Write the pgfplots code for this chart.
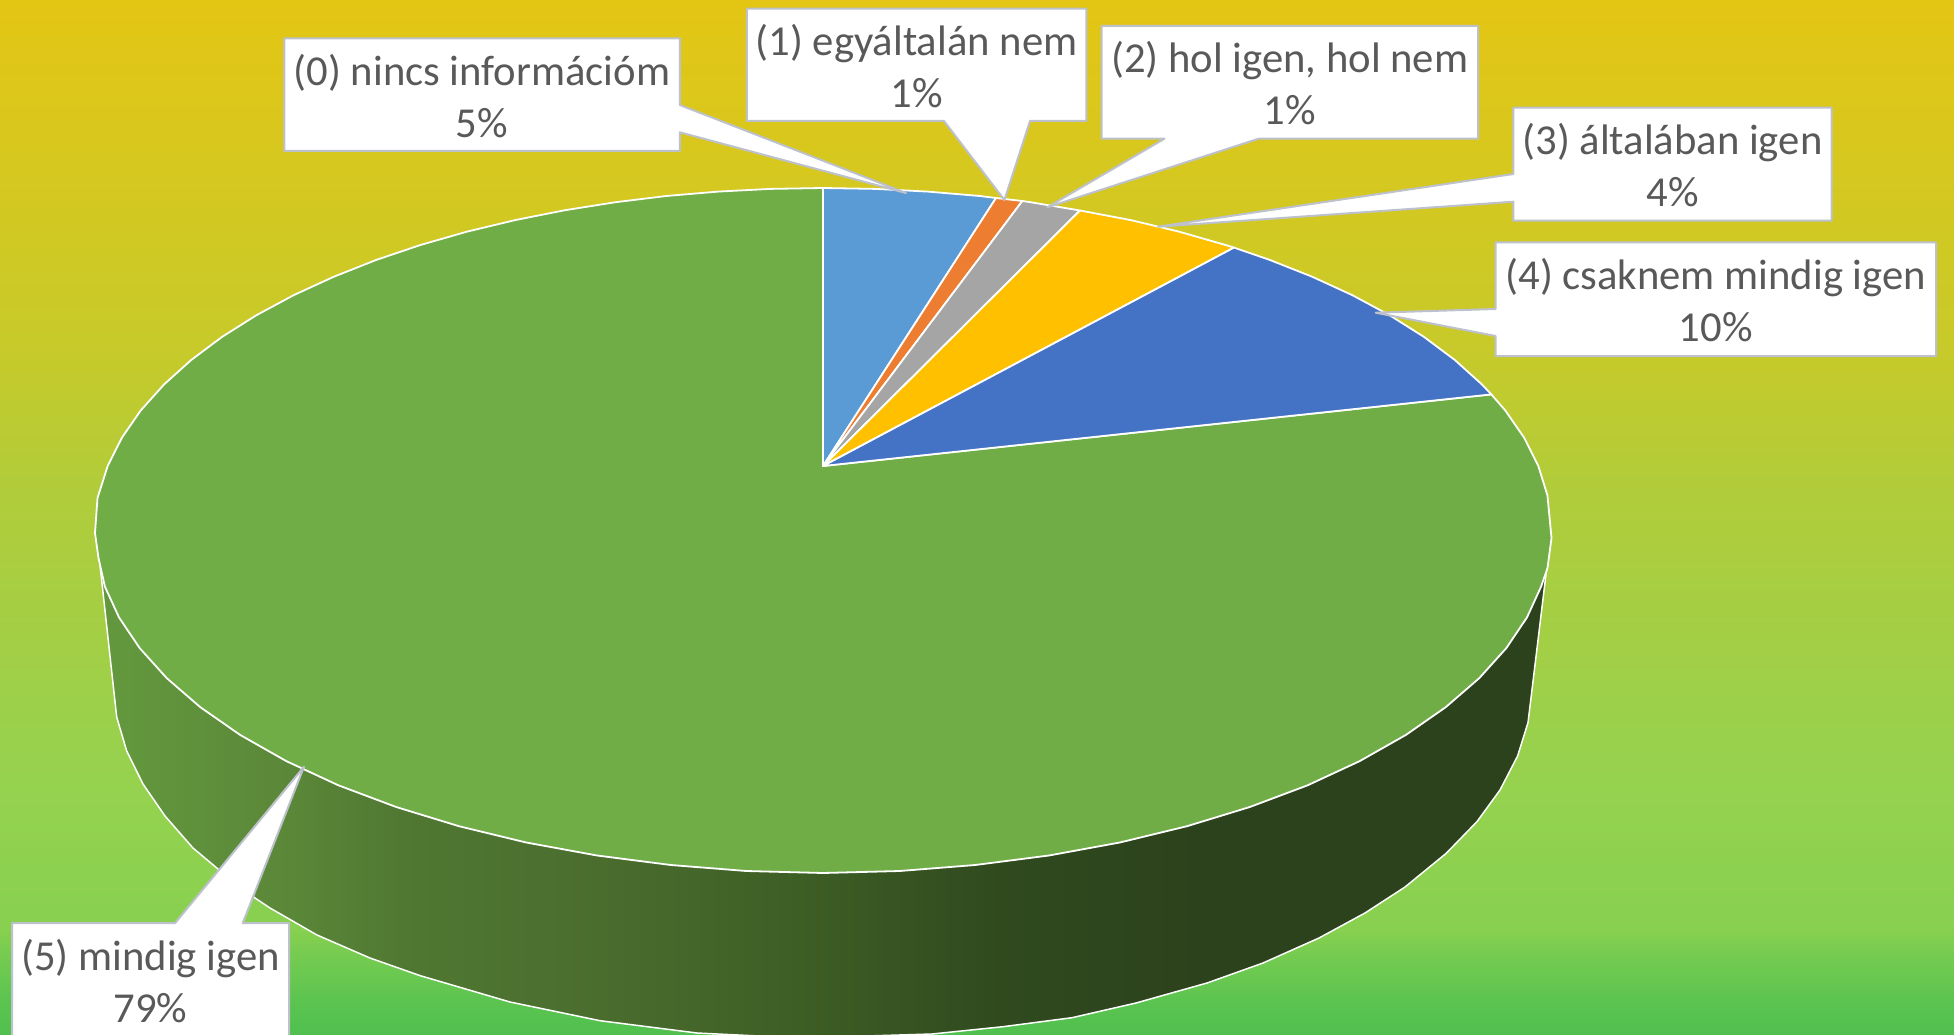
\documentclass[border=0pt]{standalone}
\usepackage{fontspec}
\setmainfont{Carlito}
\usepackage{pgfplots}
\pgfplotsset{compat=1.18}
\definecolor{txt}{HTML}{595959}
\definecolor{bord}{HTML}{BDC1CC}
\definecolor{green5}{HTML}{70AD47}
\definecolor{slice0}{HTML}{5B9BD5}
\definecolor{slice1}{HTML}{ED7D31}
\definecolor{slice2}{HTML}{A5A5A5}
\definecolor{slice3}{HTML}{FFC000}
\definecolor{slice4}{HTML}{4472C4}
\definecolor{bga}{RGB}{80,192,78}
\definecolor{bgb}{RGB}{92,196,80}
\definecolor{bgc}{RGB}{120,204,80}
\definecolor{bgd}{RGB}{136,208,80}
\definecolor{bge}{RGB}{148,210,79}
\definecolor{bgf}{RGB}{157,208,74}
\definecolor{bgg}{RGB}{178,204,57}
\definecolor{bgh}{RGB}{199,202,42}
\definecolor{bgi}{RGB}{220,199,27}
\definecolor{bgj}{RGB}{227,197,20}
\definecolor{wa}{RGB}{98,151,61}
\definecolor{wb}{RGB}{90,134,56}
\definecolor{wc}{RGB}{80,120,50}
\definecolor{wd}{RGB}{74,109,46}
\definecolor{we}{RGB}{61,94,37}
\definecolor{wf}{RGB}{48,74,30}
\definecolor{wg}{RGB}{44,66,28}
\pgfdeclareverticalshading{bgshade}{100bp}{
  color(0bp)=(bga);
  color(25bp)=(bga);
  color(26.7bp)=(bgb);
  color(29.1bp)=(bgc);
  color(30.1bp)=(bgd);
  color(36.4bp)=(bge);
  color(41.2bp)=(bgf);
  color(51.8bp)=(bgg);
  color(58.1bp)=(bgh);
  color(70.2bp)=(bgi);
  color(75bp)=(bgj);
  color(100bp)=(bgj)}
\pgfdeclarehorizontalshading{wallshade}{100bp}{
  color(0bp)=(wa);
  color(26bp)=(wa);
  color(31.9bp)=(wb);
  color(35.4bp)=(wc);
  color(42.3bp)=(wd);
  color(49.2bp)=(we);
  color(56.1bp)=(wf);
  color(63bp)=(wg);
  color(100bp)=(wg)}
\begin{document}
\begin{tikzpicture}
\begin{axis}[
  scale only axis, width=1954pt, height=1035pt,
  xmin=0, xmax=1954, ymin=0, ymax=1035, y dir=reverse,
  hide axis, clip=true,
]
% background
\addplot[draw=none, shade, shading=bgshade] coordinates {(0,0)(1954,0)(1954,1035)(0,1035)} --cycle;
% side wall
\addplot[draw=white, line width=1.5pt, shade, shading=wallshade] coordinates {
(100,565)(116.7,717)(126.7,751)(143,784)(165,816)(193,848)(218,869)(255,898)(270,908)(317,935)(370,958)(420,975.6)(510,1002)(600,1020.7)(697,1033)(800,1038)(932,1034)(1003,1026.7)(1072,1017.7)(1136,1003)(1207,983)(1263,963)(1319,938)(1365,913)(1405,887)(1446,853.5)(1477,821.6)(1500,790)(1517.6,756)(1528,722.5)(1546.5,570)} --cycle;
% (5) mindig igen
\addplot[draw=white, line width=1.8pt, fill=green5, line join=round] coordinates {
(823,466)(1491.3,394.4)(1505.3,410.5)(1524.1,437.7)(1538.3,466)(1547.4,495.3)(1551.5,538)(1547.5,568)(1541.1,586.6)(1527,617.4)(1506.4,648)(1479.4,678)(1445.8,707.1)(1405.9,734.9)(1359.7,761.1)(1307.6,785.3)(1249.8,807)(1187,826.2)(1119.8,842.5)(1048.9,855.5)(975.2,865)(899.7,871)(823,873)
(746.3,871)(670.8,865)(597.1,855.5)(526.2,842.5)(459,826.2)(396.2,807)(338.4,785.3)(286.3,761.1)(240.1,734.9)(200.2,707.1)(166.6,678)(139.6,648)(119,617.4)(104.9,586.6)(98.5,558)(95,533)(97.5,498)(107.7,466)(121.9,437.7)(140.7,410.5)(164,384.5)(191.3,359.9)(222.2,336.8)(256.6,315.1)(293.8,295.1)(333.9,276.7)(376.3,259.9)(420.8,244.9)(467.2,231.6)(515.2,220.1)(564.5,210.3)(614.9,202.3)(666.2,196)(718.1,191.6)(770.4,188.9)(823,188)} --cycle;
% (0)
\addplot[draw=white, line width=1.8pt, fill=slice0, line join=round] coordinates {(823,466)(823,188)(875.6,188.9)(927.9,191.6)(979.8,196)(996,198)} --cycle;
% (1)
\addplot[draw=white, line width=1.8pt, fill=slice1, line join=round] coordinates {(823,466)(996,198)(1022.3,201)} --cycle;
% (2)
\addplot[draw=white, line width=1.8pt, fill=slice2, line join=round] coordinates {(823,466)(1022.3,201)(1031,202.3)(1080,210.5)} --cycle;
% (3)
\addplot[draw=white, line width=1.8pt, fill=slice3, line join=round] coordinates {(823,466)(1080,210.5)(1130.8,220.1)(1178.8,231.6)(1225.2,244.9)(1234,247.6)} --cycle;
% (4)
\addplot[draw=white, line width=1.8pt, fill=slice4, line join=round] coordinates {(823,466)(1234,247.6)(1269.7,259.9)(1312.1,276.7)(1352.2,295.1)(1389.4,315.1)(1423.8,336.8)(1454.7,359.9)(1482,384.5)(1491.3,394.4)} --cycle;
% callouts
\addplot[draw=bord, line width=2pt, fill=white, line join=round] coordinates {(284.3,38.3)(679.8,38.3)(679.8,105)(906,193)(679.8,132.3)(679.8,151)(284.3,151)} --cycle;
\addplot[draw=bord, line width=2pt, fill=white, line join=round] coordinates {(746.8,8.7)(1086.4,8.7)(1086.4,121)(1030,121)(1004.4,200)(944,121)(746.8,121)} --cycle;
\addplot[draw=bord, line width=2pt, fill=white, line join=round] coordinates {(1101.7,26)(1478,26)(1478,138.7)(1258.6,138.7)(1047.3,207.3)(1164.5,138.7)(1101.7,138.7)} --cycle;
\addplot[draw=bord, line width=2pt, fill=white, line join=round] coordinates {(1513.4,107.7)(1831.6,107.7)(1831.6,220.7)(1513.4,220.7)(1513.4,201.7)(1158,226.7)(1513.4,174)} --cycle;
\addplot[draw=bord, line width=2pt, fill=white, line join=round] coordinates {(1495.5,242.3)(1936,242.3)(1936,356)(1495.5,356)(1495.5,336)(1375.7,312.7)(1495.5,309)} --cycle;
\addplot[draw=bord, line width=2pt, fill=white, line join=round] coordinates {(12,923.2)(175,923.2)(304,766.7)(242.7,923.2)(289,923.2)(289,1060)(12,1060)} --cycle;
% texts
\node[anchor=base, text=txt, inner sep=0pt, font=\fontsize{42.67}{50}\selectfont] at (axis cs:482,85.3) {(0) nincs információm};
\node[anchor=base, text=txt, inner sep=0pt, font=\fontsize{42.67}{50}\selectfont] at (axis cs:482,137.3) {5\%};
\node[anchor=base, text=txt, inner sep=0pt, font=\fontsize{42.67}{50}\selectfont] at (axis cs:916.6,55.7) {(1) egyáltalán nem};
\node[anchor=base, text=txt, inner sep=0pt, font=\fontsize{42.67}{50}\selectfont] at (axis cs:916.6,107.7) {1\%};
\node[anchor=base, text=txt, inner sep=0pt, font=\fontsize{42.67}{50}\selectfont] at (axis cs:1289.8,73) {(2) hol igen, hol nem};
\node[anchor=base, text=txt, inner sep=0pt, font=\fontsize{42.67}{50}\selectfont] at (axis cs:1289.8,125) {1\%};
\node[anchor=base, text=txt, inner sep=0pt, font=\fontsize{42.67}{50}\selectfont] at (axis cs:1672.5,154.7) {(3) általában igen};
\node[anchor=base, text=txt, inner sep=0pt, font=\fontsize{42.67}{50}\selectfont] at (axis cs:1672.5,206.7) {4\%};
\node[anchor=base, text=txt, inner sep=0pt, font=\fontsize{42.67}{50}\selectfont] at (axis cs:1715.7,289.3) {(4) csaknem mindig igen};
\node[anchor=base, text=txt, inner sep=0pt, font=\fontsize{42.67}{50}\selectfont] at (axis cs:1715.7,341.3) {10\%};
\node[anchor=base, text=txt, inner sep=0pt, font=\fontsize{42.67}{50}\selectfont] at (axis cs:150.5,970.2) {(5) mindig igen};
\node[anchor=base, text=txt, inner sep=0pt, font=\fontsize{42.67}{50}\selectfont] at (axis cs:150.5,1022.2) {79\%};
\end{axis}
\end{tikzpicture}
\end{document}
